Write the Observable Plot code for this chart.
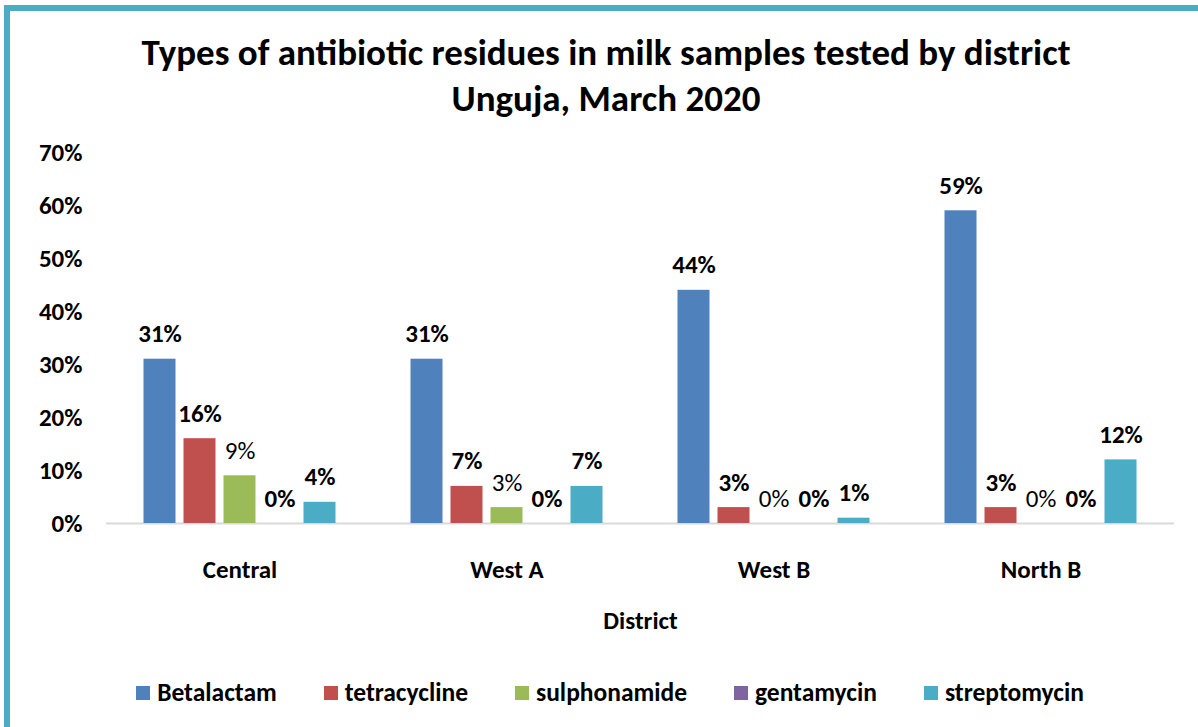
<!DOCTYPE html>
<html>
<head>
<meta charset="utf-8">
<script src="https://cdn.jsdelivr.net/npm/d3@7"></script>
<script src="https://cdn.jsdelivr.net/npm/@observablehq/plot@0.6"></script>
<style>
  body { margin: 0; background: #fff; font-family: Carlito, Lato, sans-serif; }
  #page { position: relative; width: 1198px; height: 727px; overflow: hidden; background: #fff; }
  #border { position: absolute; left: 4px; top: 5px; width: 1300px; height: 800px;
            border-left: 6px solid #4bacc6; border-top: 6px solid #4bacc6; }
  #title { position: absolute; left: 0; top: 30px; width: 1212px; text-align: center;
           font-weight: bold; font-size: 37px; line-height: 46px; color: #000; }
  #chart { position: absolute; left: 0; top: 130px; }
  #legend { position: absolute; left: 0; top: 677px; width: 1220px; display: flex;
            justify-content: center; gap: 47px; font-weight: bold; font-size: 25.5px; color: #000; }
  .item { display: flex; align-items: center; }
  .sw { width: 14px; height: 14px; margin-right: 7px; }
</style>
</head>
<body>
<div id="page">
  <div id="border"></div>
  <div id="title">Types of antibiotic residues in milk samples tested by district<br>Unguja, March 2020</div>
  <div id="chart"></div>
  <div id="legend"></div>
</div>
<script>
// Districts and antibiotic classes
const districts = ["Central", "West A", "West B", "North B"];
const antibiotics = ["Betalactam", "tetracycline", "sulphonamide", "gentamycin", "streptomycin"];

// Share of milk samples with residues (%), one value per district
const betalactam   = [31, 31, 44, 59];
const tetracycline = [16, 7, 3, 3];
const sulphonamide = [9, 3, 0, 0];
const gentamycin   = [0, 0, 0, 0];
const streptomycin = [4, 7, 1, 12];

const colors = ["#4f81bd", "#c0504d", "#9bbb59", "#8064a2", "#4bacc6"];
const yTicks = [0, 10, 20, 30, 40, 50, 60, 70];

const series = [betalactam, tetracycline, sulphonamide, gentamycin, streptomycin];
const rows = districts.flatMap((district, i) =>
  antibiotics.map((antibiotic, j) => ({district, antibiotic, value: series[j][i]}))
);

const font = "Carlito, Lato, sans-serif";

const chart = Plot.plot({
  width: 1198,
  height: 513,
  marginLeft: 105.5,
  marginRight: 24.5,
  marginTop: 22,
  marginBottom: 120,
  style: {fontFamily: font, fontSize: "25px", fontWeight: "bold", color: "#000", background: "transparent", overflow: "visible"},
  fx: {domain: districts, paddingInner: 0, paddingOuter: 0},
  x: {domain: antibiotics, paddingInner: 0.2, paddingOuter: 0.9, axis: null},
  y: {domain: [0, 70]},
  color: {domain: antibiotics, range: colors},
  marks: [
    Plot.axisY({ticks: yTicks, tickFormat: d => d + "%", tickSize: 0, tickPadding: 24, label: null}),
    Plot.axisFx({anchor: "bottom", tickSize: 0, tickPadding: 37, label: "District", labelAnchor: "center", labelOffset: 105, labelArrow: "none"}),
    Plot.ruleY([0], {stroke: "#d9d9d9", strokeWidth: 2}),
    Plot.barY(rows, {fx: "district", x: "antibiotic", y: "value", fill: "antibiotic"}),
    Plot.text(rows.filter(d => d.antibiotic !== "sulphonamide"), {
      fx: "district", x: "antibiotic", y: "value", text: d => d.value + "%",
      dy: -25, fontWeight: "bold", fill: "#000"
    }),
    Plot.text(rows.filter(d => d.antibiotic === "sulphonamide"), {
      fx: "district", x: "antibiotic", y: "value", text: d => d.value + "%",
      dy: -25, fontWeight: "normal", fill: "#000"
    })
  ]
});
document.getElementById("chart").append(chart);

// Legend row below the chart
const legend = document.getElementById("legend");
antibiotics.forEach((name, i) => {
  const item = document.createElement("div");
  item.className = "item";
  const sw = document.createElement("span");
  sw.className = "sw";
  sw.style.background = colors[i];
  item.append(sw, document.createTextNode(name));
  legend.append(item);
});
</script>
</body>
</html>
